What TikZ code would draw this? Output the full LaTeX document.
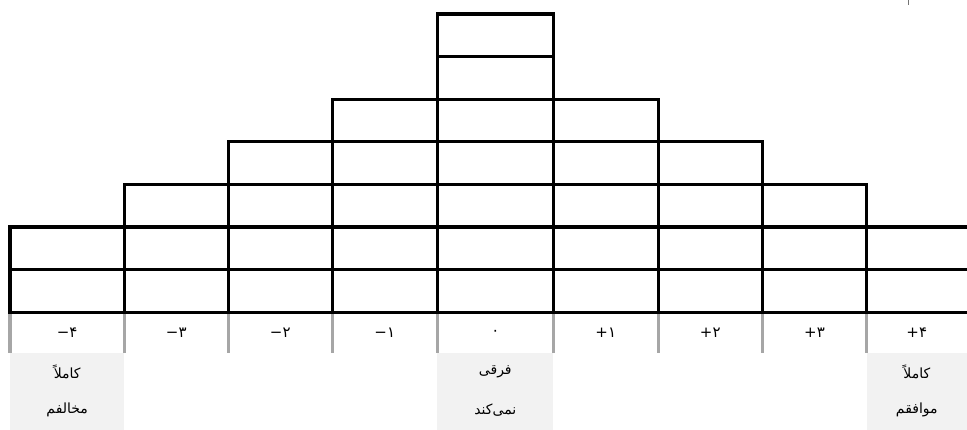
\documentclass[tikz,border=0pt]{standalone}
\usepackage{fontspec}
\newfontfamily\arabicfont[Script=Arabic]{DejaVu Sans}
\TeXXeTstate=1
\definecolor{sepgray}{HTML}{A6A6A6}
\definecolor{boxgray}{HTML}{F2F2F2}
\newcommand{\sgnnum}[2]{\hbox{\arabicfont #1}\hbox{\arabicfont #2}}
\tikzset{
  cellline/.style={draw=black, line width=3.2pt},
  sepline/.style={draw=sepgray, line width=3.2pt},
  labelbox/.style={fill=boxgray, draw=none},
  numtext/.style={font=\arabicfont\fontsize{15}{17}\selectfont, inner sep=0pt},
  wordtext/.style={font=\arabicfont\fontsize{14}{16}\selectfont, inner sep=0pt},
}
\begin{document}
\begin{tikzpicture}[x=1pt,y=-1pt]
\clip (0,0) rectangle (967,430);
% label boxes
\fill[labelbox] (10,353.3) rectangle (124.3,430);
\fill[labelbox] (437.3,353.3) rectangle (553.3,430);
\fill[labelbox] (866.7,353.3) rectangle (970,430);
% separators in number row
\foreach \x in {10,124.3,228.3,332.3,437.3,553.3,658.3,762.3,866.7}
  \draw[sepline] (\x,312.3) -- (\x,353.3);
% stair grid
\def\rh{42.6}
\foreach \xa/\xb/\n in {10/124.3/2,124.3/228.3/3,228.3/332.3/4,332.3/437.3/5,437.3/553.3/7,553.3/658.3/5,658.3/762.3/4,762.3/866.7/3,866.7/972/2}{
  \foreach \k in {1,...,\n}{
    \draw[cellline] (\xa,{312.3-\rh*(\k-1)}) rectangle (\xb,{312.3-\rh*\k});
  }
}
% numbers
\node[numtext] (n1) at (67.2,332.8) {\sgnnum{−}{۴}};
\node[numtext] (n2) at (176.3,332.8) {\sgnnum{−}{۳}};
\node[numtext] (n3) at (280.3,332.8) {\sgnnum{−}{۲}};
\node[numtext] (n4) at (384.8,332.8) {\sgnnum{−}{۱}};
\node[numtext] (n5) at (495.3,332.8) {۰};
\node[numtext] (n6) at (605.8,332.8) {\sgnnum{+}{۱}};
\node[numtext] (n7) at (710.3,332.8) {\sgnnum{+}{۲}};
\node[numtext] (n8) at (814.5,332.8) {\sgnnum{+}{۳}};
\node[numtext] (n9) at (916.8,332.8) {\sgnnum{+}{۴}};
% labels
\node[wordtext] (l1a) at (67.2,372) {\beginR کاملاً\endR};
\node[wordtext] (l1b) at (67.2,410) {\beginR مخالفم\endR};
\node[wordtext] (l2a) at (495.3,372) {\beginR فرقی\endR};
\node[wordtext] (l2b) at (495.3,410) {\beginR نمی‌کند\endR};
\node[wordtext] (l3a) at (916.8,372) {\beginR کاملاً\endR};
\node[wordtext] (l3b) at (916.8,410) {\beginR موافقم\endR};
% tiny mark top right
\draw[sepgray!70!black, line width=1pt] (908.3,0) -- (908.3,5);
\end{tikzpicture}
\end{document}
